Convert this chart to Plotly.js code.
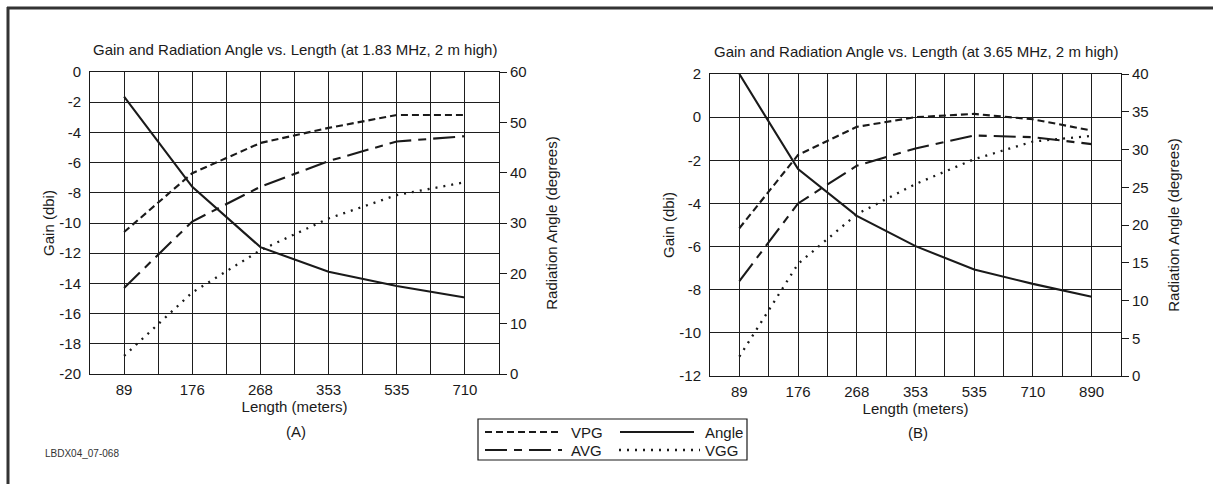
<!DOCTYPE html>
<html>
<head>
<meta charset="utf-8">
<script src="https://cdn.plot.ly/plotly-3.0.1.min.js"></script>
<style>html,body{margin:0;padding:0;background:#fff;}#chart{width:1213px;height:484px;}</style>
</head>
<body>
<div id="chart"></div>
<script>
// ---- Data ----
const lengthsA = ['89', '176', '268', '353', '535', '710'];
const vpgA   = [-10.6, -6.7, -4.7, -3.7, -2.85, -2.85];
const avgA   = [-14.3, -9.9, -7.6, -5.9, -4.6, -4.25];
const vggA   = [-18.8, -14.6, -11.8, -9.7, -8.15, -7.3];
const angleA = [55.1, 37.2, 25.2, 20.3, 17.5, 15.2];

const lengthsB = ['89', '176', '268', '353', '535', '710', '890'];
const vpgB   = [-5.15, -1.75, -0.45, 0.0, 0.15, -0.1, -0.62];
const avgB   = [-7.6, -4.0, -2.25, -1.45, -0.85, -0.93, -1.25];
const vggB   = [-11.1, -6.8, -4.5, -3.1, -1.95, -1.13, -0.87];
const angleB = [40, 27.4, 21.2, 17.2, 14.1, 12.2, 10.5];

// Tick labels (gain axes use a plain hyphen as in the reference)
const gainTicksA  = [-20, -18, -16, -14, -12, -10, -8, -6, -4, -2, 0];
const gainLabelsA = ['-20', '-18', '-16', '-14', '-12', '-10', '-8', '-6', '-4', '-2', '0'];
const gainTicksB  = [-12, -10, -8, -6, -4, -2, 0, 2];
const gainLabelsB = ['-12', '-10', '-8', '-6', '-4', '-2', '0', '2'];

const seriesNames = ['VPG', 'AVG', 'VGG', 'Angle'];

// ---- Styles ----
const W = 1213, H = 484;
const FONT = '"Liberation Sans", Arial, Helvetica, sans-serif';
const INK = '#1a1a1a';
const styles = {
  VPG:   {color: INK, width: 2.1, dash: '7px,4px'},
  AVG:   {color: INK, width: 2.1, dash: '22px,7px,8px,7px'},
  VGG:   {color: INK, width: 2.3, dash: '2px,6px'},
  Angle: {color: INK, width: 2.1, dash: 'solid'}
};
const px = x => x / W;
const py = y => 1 - y / H;

function idx(arr) { return arr.map((_, i) => i); }
function gridTicks(labels) {
  const vals = [], text = [];
  labels.forEach((l, i) => {
    vals.push(i); text.push(l);
    if (i < labels.length - 1) { vals.push(i + 0.5); text.push(''); }
  });
  return {vals, text};
}

function trace(name, xs, ys, xa, ya) {
  return {
    type: 'scatter', mode: 'lines', name: name, x: xs, y: ys,
    xaxis: xa, yaxis: ya, line: Object.assign({}, styles[name]),
    showlegend: false, hoverinfo: 'skip'
  };
}

const xA = idx(lengthsA), xB = idx(lengthsB);
const data = [
  trace('VPG', xA, vpgA, 'x', 'y'),
  trace('AVG', xA, avgA, 'x', 'y'),
  trace('VGG', xA, vggA, 'x', 'y'),
  trace('Angle', xA, angleA, 'x', 'y2'),
  trace('VPG', xB, vpgB, 'x2', 'y3'),
  trace('AVG', xB, avgB, 'x2', 'y3'),
  trace('VGG', xB, vggB, 'x2', 'y3'),
  trace('Angle', xB, angleB, 'x2', 'y4')
];

const FS = 15;
const tickFont = {family: FONT, size: FS, color: INK};
const titleFont = {family: FONT, size: FS, color: INK};
const GRID = '#1e1e1e';

function xAxis(labels, domain) {
  const t = gridTicks(labels);
  return {
    domain: domain, range: [-0.5, labels.length - 0.5], tickmode: 'array',
    tickvals: t.vals, ticktext: t.text, showgrid: true, gridcolor: GRID, gridwidth: 1,
    zeroline: false, showline: true, mirror: true, linecolor: INK, linewidth: 1,
    ticks: 'outside', ticklen: 2, tickcolor: 'rgba(0,0,0,0)', tickfont: tickFont,
    title: {text: 'Length (meters)', font: titleFont, standoff: 1}, automargin: false, fixedrange: true
  };
}
function yLeft(range, vals, labels, domain, anchor) {
  return {
    domain: domain, anchor: anchor, range: range, tickmode: 'array', tickvals: vals, ticktext: labels,
    showgrid: true, gridcolor: GRID, gridwidth: 1, zeroline: false,
    showline: true, linecolor: INK, linewidth: 1,
    ticks: 'outside', ticklen: 5, tickcolor: 'rgba(0,0,0,0)', tickfont: tickFont,
    title: {text: 'Gain (dbi)', font: titleFont, standoff: 1}, automargin: false, fixedrange: true
  };
}
function yRight(range, dtick, overlay, anchor) {
  return {
    overlaying: overlay, anchor: anchor, side: 'right', range: range, dtick: dtick, tick0: 0,
    showgrid: false, zeroline: false, showline: true, linecolor: INK, linewidth: 1,
    ticks: 'outside', ticklen: 7, tickwidth: 1, tickcolor: INK, tickfont: tickFont,
    title: {text: 'Radiation Angle (degrees)', font: titleFont, standoff: 20}, automargin: false, fixedrange: true
  };
}

const domAx = [px(90), px(499)], domAy = [py(374), py(72)];
const domBx = [px(710), px(1121)], domBy = [py(376), py(74)];

// Legend (drawn as a boxed key)
const legendRows = [
  [{n: 'VPG', x0: 485, x1: 562, tx: 569}, {n: 'Angle', x0: 620, x1: 694, tx: 703}],
  [{n: 'AVG', x0: 485, x1: 562, tx: 569}, {n: 'VGG', x0: 619, x1: 700, tx: 703}]
];
const legendY = [432, 450];
const shapes = [
  // outer frame (top and left edges only, as in the reference)
  {type: 'line', xref: 'paper', yref: 'paper', x0: px(7), x1: 1, y0: py(8), y1: py(8), line: {color: '#333', width: 3}},
  {type: 'line', xref: 'paper', yref: 'paper', x0: px(8), x1: px(8), y0: py(7), y1: 0, line: {color: '#333', width: 3}},
  // legend box
  {type: 'rect', xref: 'paper', yref: 'paper', x0: px(478), x1: px(747), y0: py(460), y1: py(419), line: {color: INK, width: 1.2}, fillcolor: 'rgba(0,0,0,0)'}
];
const annotations = [
  {text: 'Gain and Radiation Angle vs. Length (at 1.83 MHz, 2 m high)', xref: 'paper', yref: 'paper', x: px(294.5), y: py(50), showarrow: false, font: titleFont, xanchor: 'center', yanchor: 'middle'},
  {text: 'Gain and Radiation Angle vs. Length (at 3.65 MHz, 2 m high)', xref: 'paper', yref: 'paper', x: px(916), y: py(51), showarrow: false, font: titleFont, xanchor: 'center', yanchor: 'middle'},
  {text: '(A)', xref: 'paper', yref: 'paper', x: px(296), y: py(431), showarrow: false, font: titleFont, xanchor: 'center', yanchor: 'middle'},
  {text: '(B)', xref: 'paper', yref: 'paper', x: px(918), y: py(432), showarrow: false, font: titleFont, xanchor: 'center', yanchor: 'middle'},
  {text: 'LBDX04_07-068', xref: 'paper', yref: 'paper', x: px(43), y: py(453), showarrow: false, font: {family: FONT, size: 10, color: '#333'}, xanchor: 'left', yanchor: 'middle'}
];
legendRows.forEach((row, r) => {
  row.forEach(item => {
    const st = styles[item.n];
    shapes.push({type: 'line', xref: 'paper', yref: 'paper', x0: px(item.x0), x1: px(item.x1), y0: py(legendY[r]), y1: py(legendY[r]),
      line: {color: st.color, width: st.width, dash: st.dash}});
    annotations.push({text: item.n, xref: 'paper', yref: 'paper', x: px(item.tx), y: py(legendY[r]), showarrow: false,
      font: {family: FONT, size: FS, color: INK}, xanchor: 'left', yanchor: 'middle'});
  });
});

const layout = {
  width: W, height: H, margin: {l: 0, r: 0, t: 0, b: 0},
  paper_bgcolor: '#fff', plot_bgcolor: '#fff', showlegend: false, hovermode: false,
  font: {family: FONT, color: INK},
  xaxis: Object.assign(xAxis(lengthsA, domAx), {anchor: 'y'}),
  yaxis: yLeft([-20, 0], gainTicksA, gainLabelsA, domAy, 'x'),
  yaxis2: yRight([0, 60], 10, 'y', 'x'),
  xaxis2: Object.assign(xAxis(lengthsB, domBx), {anchor: 'y3'}),
  yaxis3: yLeft([-12, 2], gainTicksB, gainLabelsB, domBy, 'x2'),
  yaxis4: yRight([0, 40], 5, 'y3', 'x2'),
  shapes: shapes,
  annotations: annotations
};

Plotly.newPlot('chart', data, layout, {staticPlot: true, displayModeBar: false});
</script>
</body>
</html>
